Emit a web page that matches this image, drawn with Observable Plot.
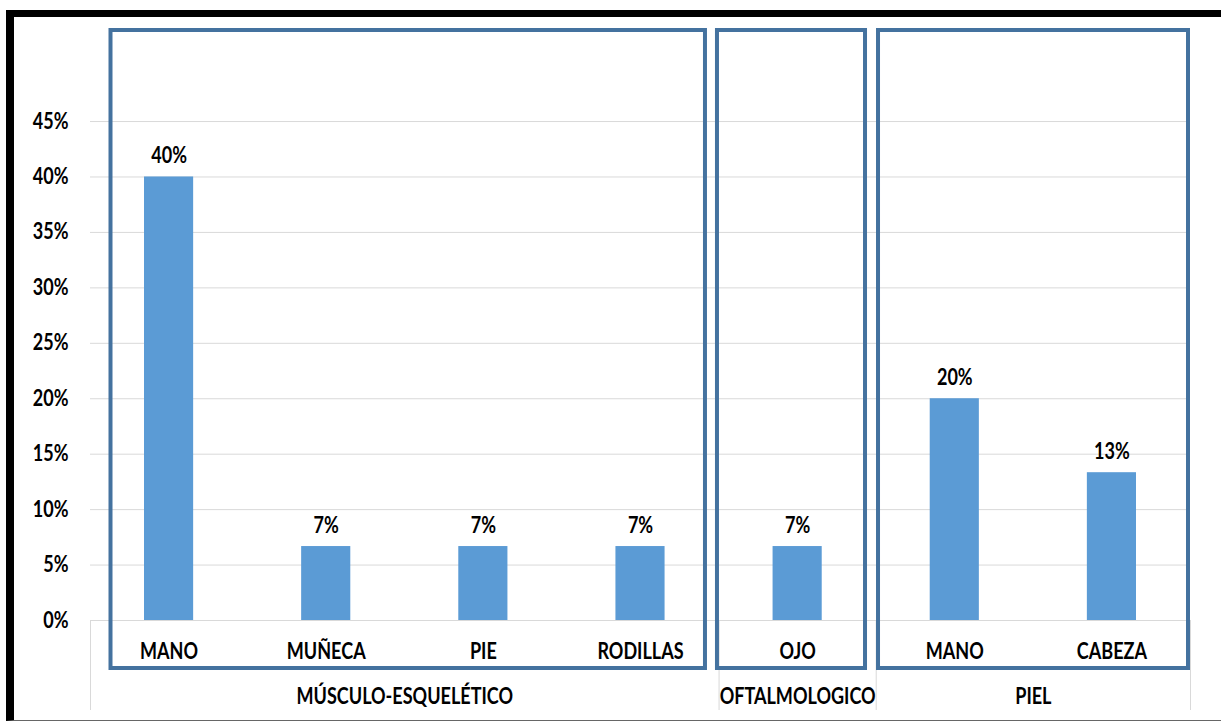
<!DOCTYPE html>
<html>
<head>
<meta charset="utf-8">
<script src="https://cdn.jsdelivr.net/npm/d3@7"></script>
<script src="https://cdn.jsdelivr.net/npm/@observablehq/plot@0.6"></script>
<style>
  html, body { margin: 0; padding: 0; background: #fff; }
  #chart { position: relative; width: 1221px; height: 722px; overflow: hidden; }
  #chart svg { position: absolute; left: 0; top: 0; }
  #border { position: absolute; left: 6px; top: 10px; width: 1207px; height: 703px;
    border-top: 7px solid #000; border-left: 8px solid #000; border-bottom: 1px solid #666;
    pointer-events: none; }
</style>
</head>
<body>
<div id="chart"><div id="border"></div></div>
<script>
// ---- data ----
const groups = ["MÚSCULO-ESQUELÉTICO", "OFTALMOLOGICO", "PIEL"];
const categories = ["MANO", "MUÑECA", "PIE", "RODILLAS", "OJO", "MANO", "CABEZA"];
const categoryGroup = ["MÚSCULO-ESQUELÉTICO", "MÚSCULO-ESQUELÉTICO", "MÚSCULO-ESQUELÉTICO", "MÚSCULO-ESQUELÉTICO", "OFTALMOLOGICO", "PIEL", "PIEL"];
const values = [0.40, 0.0667, 0.0667, 0.0667, 0.0667, 0.20, 0.1333];
const yTicks = [0, 0.05, 0.10, 0.15, 0.20, 0.25, 0.30, 0.35, 0.40, 0.45];

// ---- derived tables ----
const data = categories.map((c, i) => ({i, category: c, group: categoryGroup[i], value: values[i]}));
const groupInfo = groups.map(g => {
  const idx = data.filter(d => d.group === g).map(d => d.i);
  const start = d3.min(idx), end = d3.max(idx);
  return {group: g, start, end, mid: (start + end) / 2};
});
const separators = [groupInfo[0].start - 0.5, ...groupInfo.map(g => g.end + 0.5)];

const pct = d3.format(".0%");
const font = "Lato, 'Open Sans', sans-serif";
const fs = 22;
const boxColor = "#44729f";
const boxInsets = [[20.5, 13.6], [-1.6, 10.7], [2.3, 2]];

const chart = Plot.plot({
  width: 1221,
  height: 722,
  marginLeft: 90,
  marginRight: 31,
  marginTop: 65.6,
  marginBottom: 102,
  style: {fontFamily: font, fontSize: fs + "px", fontWeight: "bold", color: "#000", background: "transparent"},
  x: {type: "linear", domain: [-0.5, categories.length - 0.5], axis: null},
  y: {domain: [0, 0.5], axis: null},
  marks: [
    Plot.gridY(yTicks.slice(1), {stroke: "#d9d9d9", strokeOpacity: 1, strokeWidth: 1}),
    Plot.ruleY([0], {stroke: "#d9d9d9", strokeWidth: 1}),
    Plot.axisY({ticks: yTicks, tickFormat: pct, tickSize: 0, tickPadding: 22, fontSize: fs, fontWeight: "bold", label: null}),
    Plot.axisX({ticks: separators, tickFormat: () => "", tickSize: 90, stroke: "#d9d9d9", strokeWidth: 1, label: null}),
    Plot.axisX({ticks: data.map(d => d.i), tickFormat: i => categories[i], tickSize: 0, tickPadding: 22.5, fontSize: fs, fontWeight: "bold", label: null}),
    Plot.axisX({ticks: groupInfo.map(g => g.mid), tickFormat: m => groupInfo.find(g => g.mid === m).group, tickSize: 0, tickPadding: 67.5, fontSize: fs, fontWeight: "bold", label: null}),
    Plot.rectY(data, {x1: d => d.i - 0.5, x2: d => d.i + 0.5, y: "value", fill: "#5b9bd5", insetLeft: 54, insetRight: 54}),
    Plot.text(data, {x: "i", y: "value", text: d => pct(d.value), dy: -21, fontSize: fs, fontWeight: "bold", fill: "#000"}),
    ...groupInfo.map((g, k) => Plot.rect([g], {
      x1: d => d.start - 0.5, x2: d => d.end + 0.5,
      fill: "none", stroke: boxColor, strokeWidth: 4,
      insetLeft: boxInsets[k][0], insetRight: boxInsets[k][1],
      insetTop: -35.6, insetBottom: -48
    }))
  ]
});
document.getElementById("chart").prepend(chart);

// Condense glyphs to mimic the narrow (Calibri-like) bold face of the original.
const texts = Array.from(chart.querySelectorAll("text"));
const ref = texts.find(t => t.textContent === "OFTALMOLOGICO");
const k = ref ? Math.min(1, 156 / ref.getComputedTextLength()) : 0.85;
texts.forEach(t => {
  const targets = t.querySelectorAll("tspan").length ? t.querySelectorAll("tspan") : [t];
  targets.forEach(el => {
    const len = el.getComputedTextLength();
    if (len > 0) {
      el.setAttribute("textLength", (len * k).toFixed(2));
      el.setAttribute("lengthAdjust", "spacingAndGlyphs");
    }
  });
});
</script>
</body>
</html>
